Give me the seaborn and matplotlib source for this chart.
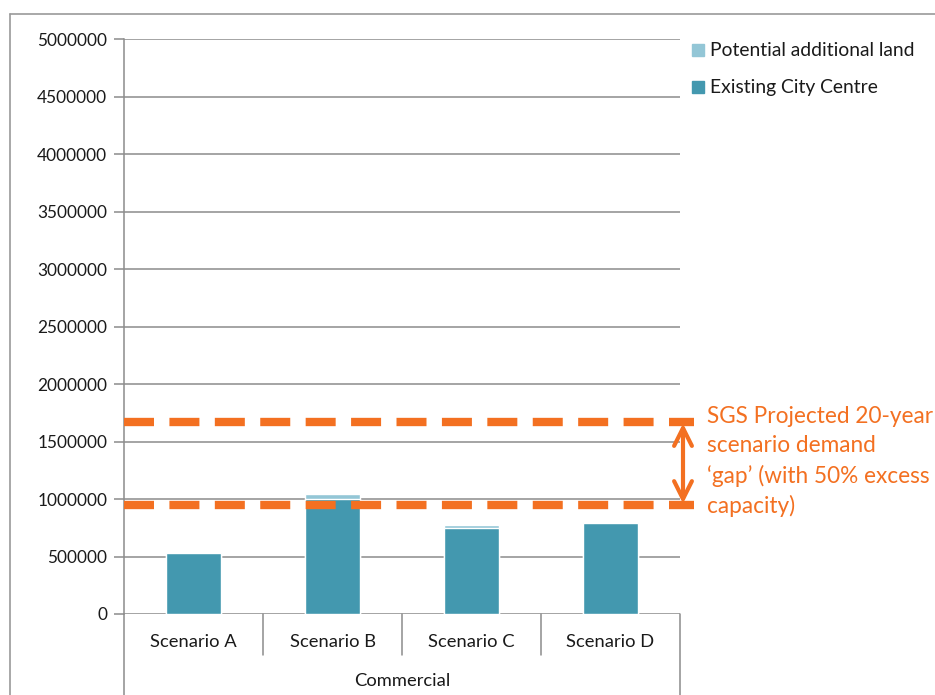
import matplotlib
matplotlib.use("Agg")
import matplotlib.pyplot as plt
from matplotlib.lines import Line2D
import seaborn as sns
import pandas as pd

# ---- data ----
scenarios = ["Scenario A", "Scenario B", "Scenario C", "Scenario D"]
existing = [528000, 1000000, 752000, 795000]
potential = [3000, 45000, 20000, 3000]
group_label = "Commercial"
y_ticks = [0, 500000, 1000000, 1500000, 2000000, 2500000, 3000000, 3500000, 4000000, 4500000, 5000000]
gap_upper = 1672000
gap_lower = 945000
legend_labels = ["Potential additional land", "Existing City Centre"]
annotation = "SGS Projected 20-year\nscenario demand\n\u2018gap\u2019 (with 50% excess\ncapacity)"

c_exist = "#4398AF"
c_pot = "#93C6D6"
c_orange = "#F37021"
c_grid = "#8C8C8C"
c_text = "#1A1A1A"

sns.set_theme(style="white")
plt.rcParams["font.family"] = ["Lato", "DejaVu Sans"]

W, H = 935, 695
fig = plt.figure(figsize=(W / 100, H / 100), dpi=100)
ax = fig.add_axes([124 / W, 1 - 614 / H, (680 - 124) / W, (614 - 39) / H])

df = pd.DataFrame({"scenario": scenarios,
                   "total": [e + p for e, p in zip(existing, potential)],
                   "existing": existing})

sns.barplot(data=df, x="scenario", y="total", color=c_pot, width=0.4,
            saturation=1, ax=ax, zorder=2)
sns.barplot(data=df, x="scenario", y="existing", color=c_exist, width=0.4,
            saturation=1, ax=ax, zorder=3)

ax.set_xlim(-0.5, 3.5)
ax.set_ylim(0, 5000000)
ax.set_yticks(y_ticks)
ax.set_yticklabels([str(v) for v in y_ticks], fontsize=12.4, color=c_text)
ax.set_xticks([])
ax.set_xlabel("")
ax.set_ylabel("")
for v in y_ticks:
    ax.axhline(v, color=c_grid, lw=1.1, zorder=1)
ax.tick_params(axis="y", direction="out", length=7, width=1.1, color=c_grid,
               left=True, pad=5)
for s in ["top", "right", "bottom"]:
    ax.spines[s].set_visible(False)
ax.spines["left"].set_color(c_grid)
ax.spines["left"].set_linewidth(1.1)

# category axis below
trans = ax.get_xaxis_transform()
for b in [0.5, 1.5, 2.5]:
    ax.add_line(Line2D([b, b], [0, -41 / 575], transform=trans, color=c_grid,
                       lw=1.1, clip_on=False))
for b in [-0.5, 3.5]:
    ax.add_line(Line2D([b, b], [0, -81 / 575], transform=trans, color=c_grid,
                       lw=1.1, clip_on=False))
for i, s in enumerate(scenarios):
    ax.text(i, -28 / 575, s, transform=trans, ha="center", va="center",
            fontsize=13.2, color=c_text)
ax.text(1.5, -67 / 575, group_label, transform=trans, ha="center",
        va="center", fontsize=13.2, color=c_text)

# dashed gap lines
for yv in [gap_upper, gap_lower]:
    ax.plot([-0.5, 3.5 + 14 / 139], [yv, yv], color=c_orange, lw=6,
            dashes=(3.6, 1.85), solid_capstyle="butt", dash_capstyle="butt",
            clip_on=False, zorder=5)

# double arrow
ax.annotate("", xy=(3.5 + 3 / 139, gap_lower + 15000),
            xytext=(3.5 + 3 / 139, gap_upper - 15000),
            arrowprops=dict(arrowstyle="<->", color=c_orange, lw=3,
                            mutation_scale=32, shrinkA=0, shrinkB=0),
            annotation_clip=False, zorder=6)

fig.text(707 / W, 1 - 406 / H, annotation, ha="left", va="top",
         fontsize=16.3, color=c_orange, linespacing=1.47)

# legend
for yy, lab, col in [(50, legend_labels[0], c_pot), (87, legend_labels[1], c_exist)]:
    fig.patches.append(plt.Rectangle((692 / W, 1 - (yy + 6) / H), 12 / W, 12 / H,
                                     transform=fig.transFigure, color=col,
                                     figure=fig))
    fig.text(710 / W, 1 - yy / H, lab, ha="left", va="center", fontsize=13.9,
             color=c_text)

# outer chart frame
fig.add_artist(Line2D([10 / W, 10 / W], [0, 1 - 14 / H], transform=fig.transFigure,
                      color="#9A9A9A", lw=1.2))
fig.add_artist(Line2D([10 / W, 1], [1 - 14 / H, 1 - 14 / H], transform=fig.transFigure,
                      color="#9A9A9A", lw=1.2))

fig.savefig("out.png", dpi=100, facecolor="white")
